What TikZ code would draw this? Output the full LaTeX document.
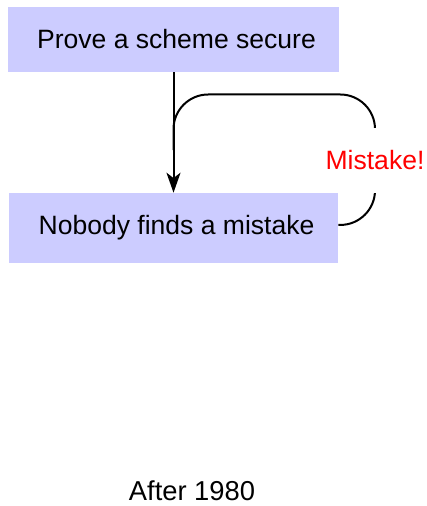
\documentclass[tikz,border=0pt]{standalone}
\usepackage{fontspec}
\setmainfont{Liberation Sans}
\usetikzlibrary{arrows.meta}
\begin{document}
\begin{tikzpicture}[x=0.75pt,y=-0.75pt,
  every node/.style={font=\fontsize{19.9}{24}\selectfont},
  stepbox/.style={fill=blue!20, inner sep=0pt, anchor=center},
  link/.style={line width=1.5pt},
  tip/.style={-{Stealth[length=15pt,width=10.5pt,inset=4pt]}}]
  \useasboundingbox (0,0) rectangle (427,506);
  \node[stepbox, minimum width=331*0.75pt, minimum height=65*0.75pt]
    (prove) at (173.5,39.5) {\hspace*{4.5pt}\raisebox{-1pt}{Prove a scheme secure}};
  \node[stepbox, minimum width=329*0.75pt, minimum height=70*0.75pt]
    (nobody) at (173.5,228) {\hspace*{4.5pt}\raisebox{-1.2pt}{Nobody finds a mistake}};
  \coordinate (join) at (prove.south |- 0,150);
  \draw[link, tip] (prove.south) -- (nobody.north);
  \draw[link, rounded corners=26pt] ([yshift=2.3pt]nobody.east) -| (375,94.5) -| (join);
  \node[fill=white, text=red, inner xsep=1pt, minimum height=65*0.75pt]
    (mistake) at (375,160.5) {Mistake!};
  \node[font=\fontsize{20.5}{24}\selectfont, inner sep=0.5pt] (year) at (192,490.5) {After 1980};
\end{tikzpicture}
\end{document}
